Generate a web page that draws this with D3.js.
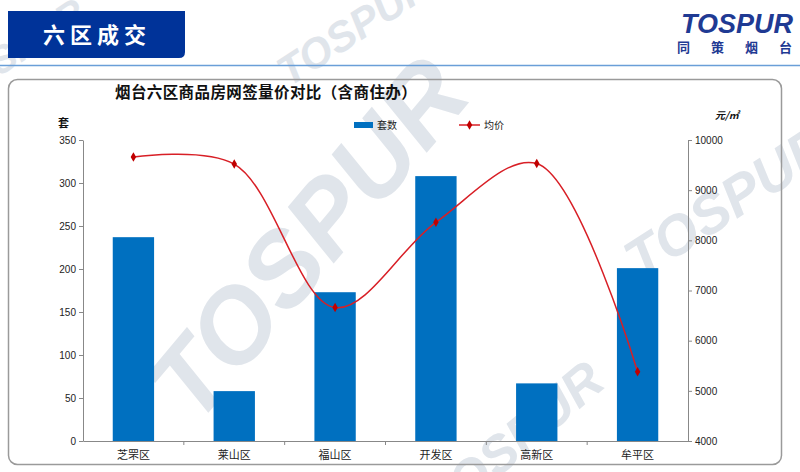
<!DOCTYPE html>
<html><head><meta charset="utf-8">
<script src="https://cdn.jsdelivr.net/npm/d3@7/dist/d3.min.js"></script>
<style>body{margin:0;background:#fff;}svg{display:block;font-family:"Noto Sans CJK SC","DejaVu Sans",sans-serif;}</style>
</head><body><svg id="c" width="800" height="472"></svg>
<script>
const categories = ["芝罘区","莱山区","福山区","开发区","高新区","牟平区"];
const units = [237, 58, 173, 308, 67, 201];
const prices = [9660, 9520, 6660, 8360, 9530, 5380];
const leftTicks = [0,50,100,150,200,250,300,350];
const rightTicks = [4000,5000,6000,7000,8000,9000,10000];
const headerText = "六区成交";
const titleText = "烟台六区商品房网签量价对比（含商住办）";
const seriesNames = ["套数","均价"];

const svg = d3.select("#c");
const W = 800, H = 472;

// watermarks
const wm = svg.append("g").attr("fill","#e0e5eb").attr("font-family","Arial, 'Liberation Sans', sans-serif").attr("font-weight","bold").attr("font-style","italic");
[[335,262,104,-50],[738,218,56,-33],[362,40,42,-33],[22,62,38,-33],[525,455,52,-40]].forEach(([x,y,s,r])=>{
  wm.append("text").attr("x",x).attr("y",y).attr("font-size",s).attr("text-anchor","middle")
    .attr("transform",`rotate(${r} ${x} ${y})`).text("TOSPUR");
});

// header
svg.append("path").attr("d","M8,11 H185 V52 Q185,58 179,58 H8 Z").attr("fill","#003399");
svg.append("text").attr("x",97).attr("y",43).attr("text-anchor","middle").attr("fill","#fff")
  .attr("font-size",22).attr("font-weight","bold").attr("letter-spacing",5).text(headerText);
svg.append("line").attr("x1",0).attr("x2",W).attr("y1",65.5).attr("y2",65.5).attr("stroke","#6a9fd8").attr("stroke-width",1.5);

// logo
svg.append("text").attr("x",793).attr("y",33).attr("text-anchor","end").attr("fill","#1f3a93")
  .attr("font-family","Arial, 'Liberation Sans', sans-serif").attr("font-size",27).attr("font-weight","bold").attr("font-style","italic").text("TOSPUR");
svg.append("text").attr("x",677).attr("y",52).attr("fill","#1f3a93")
  .attr("font-size",13).attr("font-weight","bold").attr("letter-spacing",21).text("同策烟台");

// panel
svg.append("rect").attr("x",8.5).attr("y",79.5).attr("width",773).attr("height",385).attr("rx",9)
  .attr("fill","none").attr("stroke","#9a9a9a").attr("stroke-width",1.5);

// chart
const x0 = 83, x1 = 688, yTop = 140, yBot = 441;
const x = d3.scaleBand().domain(categories).range([x0,x1]).paddingInner(0.59).paddingOuter(0.295);
const xb = d3.scaleBand().domain(categories).range([x0,x1]);
const yL = d3.scaleLinear().domain([0,350]).range([yBot,yTop]);
const yR = d3.scaleLinear().domain([4000,10000]).range([yBot,yTop]);

svg.append("text").attr("x",115).attr("y",98).attr("font-size",15.5).attr("letter-spacing",0.4).attr("font-weight","bold").attr("fill","#111").text(titleText);

svg.append("g").selectAll("rect").data(units).join("rect")
  .attr("x",(d,i)=>x(categories[i])).attr("width",x.bandwidth())
  .attr("y",d=>yL(d)).attr("height",d=>yBot-yL(d)).attr("fill","#0070c0");

const axStyle = g=>{g.selectAll("path,line").attr("stroke","#888");g.selectAll("text").attr("fill","#222").attr("font-size",10).attr("font-family","Arial, 'Liberation Sans', sans-serif");};
svg.append("g").attr("transform",`translate(${x0},0)`).call(d3.axisLeft(yL).tickValues(leftTicks).tickSize(4).tickSizeOuter(0).tickPadding(3)).call(axStyle);
svg.append("g").attr("transform",`translate(${x1},0)`).call(d3.axisRight(yR).tickValues(rightTicks).tickSize(4).tickSizeOuter(0).tickFormat(d3.format("d")).tickPadding(3)).call(axStyle);
const xa = svg.append("g").attr("transform",`translate(0,${yBot})`).call(d3.axisBottom(xb).tickSize(0).tickPadding(10));
xa.select(".domain").attr("stroke","#888");
xa.selectAll("text").attr("font-size",11).attr("fill","#222").attr("font-family","'Noto Sans CJK SC',sans-serif");
svg.append("g").selectAll("line").data(categories.slice(1)).join("line")
  .attr("x1",d=>xb(d)).attr("x2",d=>xb(d)).attr("y1",yBot).attr("y2",yBot+4).attr("stroke","#888");

svg.append("text").attr("x",58).attr("y",127).attr("font-size",11).attr("font-weight","bold").attr("fill","#111").text("套");
svg.append("text").attr("x",715).attr("y",119).attr("font-size",10).attr("font-weight","bold").attr("font-style","italic").attr("fill","#111").text("元/㎡");

const line = d3.line().x((d,i)=>xb(categories[i])+xb.bandwidth()/2).y(d=>yR(d)).curve(d3.curveCatmullRom.alpha(0.5));
svg.append("path").attr("d",line(prices)).attr("fill","none").attr("stroke","#d81f26").attr("stroke-width",1.5);
svg.append("g").selectAll("path").data(prices).join("path")
  .attr("d",d3.symbol(d3.symbolDiamond,26))
  .attr("transform",(d,i)=>`translate(${xb(categories[i])+xb.bandwidth()/2},${yR(d)})`).attr("fill","#c00000");

// legend
const lg = svg.append("g").attr("font-size",10).attr("fill","#222");
lg.append("rect").attr("x",354).attr("y",122).attr("width",19).attr("height",6).attr("fill","#0070c0");
lg.append("text").attr("x",377).attr("y",129).text(seriesNames[0]);
lg.append("line").attr("x1",459).attr("x2",480).attr("y1",125).attr("y2",125).attr("stroke","#d81f26").attr("stroke-width",1.5);
lg.append("path").attr("d",d3.symbol(d3.symbolDiamond,26)).attr("transform","translate(469.5,125)").attr("fill","#c00000");
lg.append("text").attr("x",484).attr("y",129).text(seriesNames[1]);
</script></body></html>
